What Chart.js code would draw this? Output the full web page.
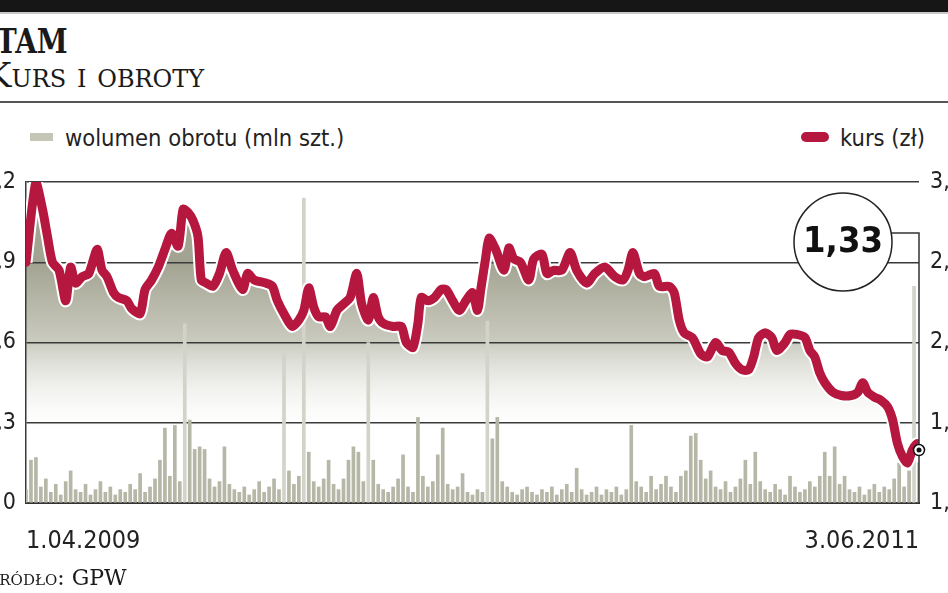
<!DOCTYPE html>
<html lang="pl">
<head>
<meta charset="utf-8">
<title>Kurs i obroty</title>
<script src="https://cdn.jsdelivr.net/npm/chart.js@4.4.1/dist/chart.umd.min.js"></script>
<style>
    html, body { margin: 0; padding: 0; background: #fff; }
    body { width: 948px; height: 593px; overflow: hidden; position: relative; color: #222; }
    .topbar { position: absolute; left: 0; top: 0; width: 948px; height: 12px; background: #161616; border-bottom: 2px solid #c8c8c8; }
    .title { position: absolute; left: -4px; top: 21px; font: bold 34px "DejaVu Serif", serif; color: #1a1a1a; transform: scaleX(0.82); transform-origin: left top; white-space: nowrap; }
    .subtitle { position: absolute; left: -14px; top: 55px; font: 34px "DejaVu Serif", serif; font-variant: small-caps; color: #1a1a1a; white-space: nowrap; }
    .rule { position: absolute; left: 0; top: 101px; width: 948px; height: 2px; background: #555; }
    .legend { position: absolute; top: 126px; font: 23.5px "DejaVu Sans Condensed", "Liberation Sans Narrow", sans-serif; line-height: 25px; color: #222; white-space: nowrap; }
    .swatch { position: absolute; }
    .source { position: absolute; left: -16px; top: 567px; font: 22px "DejaVu Serif", serif; font-variant: small-caps; line-height: 22px; color: #1a1a1a; white-space: nowrap; }
    #wrap { position: absolute; left: -30px; top: 150px; width: 1010px; height: 420px; }
</style>
</head>
<body>
<div class="topbar"></div>
<div class="title">TAM</div>
<div class="subtitle">Kurs i obroty</div>
<div class="rule"></div>

<div class="swatch" style="left:30px; top:133px; width:23px; height:8px; background:#c5c6b6;"></div>
<div class="legend" style="left:65px;">wolumen obrotu (mln szt.)</div>
<div class="swatch" style="left:801px; top:132px; width:28px; height:10px; border-radius:5px; background:#b5173f;"></div>
<div class="legend" style="left:840px;">kurs (zł)</div>

<div id="wrap"><canvas id="chart"></canvas></div>

<div class="source">Źródło: GPW</div>

<script>
// sesje liczone od 1.04.2009
const priceSessions = [
    0, 6, 10, 13, 16, 20, 24, 27, 30, 34,
    38, 43, 46, 49, 53, 56, 61, 64, 69, 72,
    76, 80, 84, 88, 92, 95, 98, 101, 104, 106,
    109, 113, 117, 121, 125, 131, 134, 138, 145, 149,
    152, 157, 161, 165, 168, 171, 174, 177, 181, 184,
    188, 192, 196, 200, 203, 207, 210, 213, 216, 222,
    227, 230, 234, 237, 239, 243, 247, 251, 254, 258,
    262, 266, 270, 273, 275, 278, 280, 284, 289, 292,
    295, 299, 304, 307, 312, 315, 319, 324, 329, 333,
    339, 344, 350, 356, 361, 364, 367, 371, 374, 380,
    383, 389, 392, 395, 398, 403, 408, 412, 417, 421,
    425, 429, 433, 437, 440, 443, 447, 451, 454, 459,
    462, 466, 471, 474, 477, 480, 483, 488, 493, 499,
    503, 506, 509, 513, 517, 521, 524, 527, 530, 533,
    536, 539, 540
];

// kurs (zł)
const priceValues = [
    2.50, 3.00, 2.83, 2.66, 2.50, 2.45, 2.26, 2.47, 2.37, 2.41,
    2.43, 2.58, 2.45, 2.41, 2.31, 2.28, 2.26, 2.21, 2.18, 2.33,
    2.39, 2.47, 2.58, 2.68, 2.60, 2.83, 2.81, 2.76, 2.66, 2.39,
    2.37, 2.35, 2.43, 2.56, 2.45, 2.33, 2.43, 2.39, 2.37, 2.35,
    2.26, 2.16, 2.10, 2.14, 2.20, 2.34, 2.22, 2.16, 2.16, 2.10,
    2.20, 2.24, 2.28, 2.43, 2.24, 2.14, 2.28, 2.16, 2.12, 2.10,
    2.10, 2.00, 1.97, 2.12, 2.28, 2.26, 2.28, 2.33, 2.33, 2.26,
    2.20, 2.26, 2.31, 2.20, 2.33, 2.53, 2.65, 2.58, 2.45, 2.59,
    2.52, 2.50, 2.39, 2.52, 2.55, 2.43, 2.45, 2.45, 2.56, 2.45,
    2.37, 2.43, 2.47, 2.41, 2.39, 2.45, 2.56, 2.43, 2.41, 2.43,
    2.35, 2.35, 2.31, 2.14, 2.06, 2.03, 1.93, 1.91, 2.00, 1.95,
    1.94, 1.87, 1.83, 1.83, 1.91, 2.03, 2.06, 2.03, 1.95, 2.00,
    2.05, 2.05, 2.03, 1.95, 1.91, 1.81, 1.75, 1.69, 1.67, 1.67,
    1.69, 1.75, 1.69, 1.66, 1.64, 1.60, 1.52, 1.37, 1.29, 1.25,
    1.33, 1.37, 1.33
];

// wolumen obrotu (mln szt.), co 3 sesje
const volumeStep = 3;
const volumeValues = [
    0.05, 0.16, 0.17, 0.06, 0.09, 0.04, 0.07, 0.03, 0.08, 0.12,
    0.05, 0.04, 0.07, 0.03, 0.05, 0.08, 0.04, 0.06, 0.03, 0.05,
    0.04, 0.07, 0.05, 0.11, 0.04, 0.06, 0.09, 0.16, 0.28, 0.10,
    0.29, 0.08, 0.67, 0.31, 0.20, 0.21, 0.20, 0.09, 0.06, 0.08,
    0.21, 0.07, 0.05, 0.04, 0.06, 0.03, 0.05, 0.08, 0.04, 0.06,
    0.09, 0.05, 0.56, 0.12, 0.07, 0.10, 1.14, 0.19, 0.08, 0.06,
    0.09, 0.16, 0.07, 0.05, 0.09, 0.16, 0.21, 0.19, 0.08, 0.60,
    0.16, 0.07, 0.05, 0.04, 0.06, 0.09, 0.18, 0.06, 0.04, 0.32,
    0.10, 0.06, 0.08, 0.18, 0.28, 0.07, 0.05, 0.06, 0.11, 0.04,
    0.03, 0.05, 0.04, 0.68, 0.24, 0.32, 0.08, 0.06, 0.04, 0.03,
    0.05, 0.06, 0.04, 0.03, 0.05, 0.04, 0.06, 0.03, 0.05, 0.07,
    0.04, 0.13, 0.05, 0.03, 0.04, 0.06, 0.03, 0.05, 0.04, 0.06,
    0.03, 0.05, 0.29, 0.08, 0.06, 0.04, 0.10, 0.05, 0.07, 0.10,
    0.06, 0.04, 0.10, 0.12, 0.25, 0.26, 0.16, 0.09, 0.12, 0.06,
    0.05, 0.08, 0.04, 0.06, 0.09, 0.16, 0.07, 0.19, 0.08, 0.05,
    0.04, 0.07, 0.05, 0.03, 0.10, 0.06, 0.04, 0.05, 0.08, 0.06,
    0.10, 0.19, 0.10, 0.21, 0.07, 0.10, 0.05, 0.04, 0.06, 0.03,
    0.05, 0.07, 0.04, 0.06, 0.05, 0.09, 0.15, 0.06, 0.12, 0.81,
    0.15
];

const volumeTicks = [0, 0.3, 0.6, 0.9, 1.2];
const priceTicks = [1, 1.5, 2, 2.5, 3];
const dateLabels = ['1.04.2009', '3.06.2011'];
const lastPriceLabel = '1,33';

const lastSession = priceSessions[priceSessions.length - 1];
const sansFont = '"DejaVu Sans Condensed", "Liberation Sans Narrow", sans-serif';
const red = '#b5173f';

function fmtComma(v) {
    return v === 0 ? '0' : v.toFixed(1).replace('.', ',');
}

const pricePoints = priceSessions.map((s, i) => ({ x: s, y: priceValues[i] }));
const volumePoints = volumeValues.map((v, i) => ({ x: i * volumeStep, y: v }));

// kolko z ostatnim kursem + znacznik ostatniej sesji
const lastPriceBadge = {
    id: 'lastPriceBadge',
    afterDatasetsDraw(chart) {
        const { ctx, chartArea, scales } = chart;
        const px = scales.x.getPixelForValue(lastSession);
        const py = scales.yPrice.getPixelForValue(priceValues[priceValues.length - 1]);
        const cx = chartArea.right - 76;
        const cy = chartArea.top + 60;
        const r = 49;
        const lineY = cy - 9;

        ctx.save();
        ctx.strokeStyle = '#333';
        ctx.lineWidth = 1.5;
        ctx.beginPath();
        ctx.moveTo(cx, lineY);
        ctx.lineTo(chartArea.right, lineY);
        ctx.lineTo(chartArea.right, chartArea.bottom);
        ctx.stroke();

        ctx.beginPath();
        ctx.arc(cx, cy, r, 0, Math.PI * 2);
        ctx.fillStyle = '#fff';
        ctx.fill();
        ctx.strokeStyle = '#222';
        ctx.stroke();

        ctx.fillStyle = '#111';
        ctx.font = 'bold 36px ' + sansFont;
        ctx.textAlign = 'center';
        ctx.textBaseline = 'middle';
        ctx.fillText(lastPriceLabel, cx, cy + 1);

        ctx.beginPath();
        ctx.arc(px, py, 5.5, 0, Math.PI * 2);
        ctx.fillStyle = '#fff';
        ctx.fill();
        ctx.strokeStyle = '#111';
        ctx.stroke();
        ctx.beginPath();
        ctx.arc(px, py, 2.5, 0, Math.PI * 2);
        ctx.fillStyle = '#111';
        ctx.fill();
        ctx.restore();
    }
};

const ctx = document.getElementById('chart').getContext('2d');
new Chart(ctx, {
    type: 'line',
    data: {
        datasets: [
            {
                type: 'bar',
                label: 'wolumen obrotu (mln szt.)',
                data: volumePoints,
                xAxisID: 'x',
                yAxisID: 'yVol',
                barThickness: 3,
                backgroundColor: c => (c.raw && c.raw.y > 0.45 ? '#d2d3c9' : '#b6b7a6'),
                order: 3
            },
            {
                label: 'halo',
                data: pricePoints,
                yAxisID: 'yPrice',
                borderColor: '#fff',
                borderWidth: 13,
                pointRadius: 0,
                tension: 0.25,
                borderJoinStyle: 'round',
                fill: 'start',
                backgroundColor: c => {
                    const { chart } = c;
                    const { chartArea, scales } = chart;
                    if (!chartArea) return 'rgba(0,0,0,0)';
                    const g = chart.ctx.createLinearGradient(0, scales.yPrice.getPixelForValue(2.5), 0, scales.yPrice.getPixelForValue(1.4));
                    g.addColorStop(0, '#a2a391');
                    g.addColorStop(0.45, '#cacbbf');
                    g.addColorStop(1, 'rgba(255,255,255,0)');
                    return g;
                },
                order: 2
            },
            {
                label: 'kurs (zł)',
                data: pricePoints,
                yAxisID: 'yPrice',
                borderColor: red,
                borderWidth: 9,
                pointRadius: 0,
                tension: 0.25,
                borderJoinStyle: 'round',
                borderCapStyle: 'round',
                fill: false,
                order: 1
            }
        ]
    },
    options: {
        responsive: true,
        maintainAspectRatio: false,
        animation: false,
        layout: { padding: { top: 32, left: 0, right: 0, bottom: 0 } },
        plugins: {
            legend: { display: false },
            tooltip: { enabled: false },
            filler: { drawTime: 'beforeDraw' }
        },
        scales: {
            x: {
                type: 'linear',
                min: 0,
                max: lastSession,
                offset: false,
                grid: { display: false, drawTicks: false },
                border: { display: true, color: '#333', width: 2 },
                afterBuildTicks: s => { s.ticks = [{ value: 0 }, { value: lastSession }]; },
                afterFit: s => { s.height = 67; },
                ticks: {
                    align: 'inner',
                    autoSkip: false,
                    maxRotation: 0,
                    padding: 23,
                    color: '#222',
                    font: { family: sansFont, size: 25 },
                    callback: (v, i) => dateLabels[i]
                }
            },
            yVol: {
                position: 'left',
                min: 0,
                max: 1.2,
                afterBuildTicks: s => { s.ticks = volumeTicks.map(v => ({ value: v })); },
                afterFit: s => { s.width = 56; },
                grid: { color: '#3a3a3a', lineWidth: 1.5, drawTicks: false },
                border: { display: true, color: '#3a3a3a', width: 1.5 },
                ticks: {
                    padding: 10,
                    color: '#222',
                    font: { family: sansFont, size: 23 },
                    callback: v => fmtComma(v)
                }
            },
            yPrice: {
                position: 'right',
                min: 1,
                max: 3,
                afterBuildTicks: s => { s.ticks = priceTicks.map(v => ({ value: v })); },
                afterFit: s => { s.width = 61; },
                grid: { display: false, drawTicks: false },
                border: { display: false },
                ticks: {
                    padding: 11,
                    color: '#222',
                    font: { family: sansFont, size: 23 },
                    callback: v => fmtComma(v)
                }
            }
        }
    },
    plugins: [lastPriceBadge]
});
</script>
</body>
</html>
